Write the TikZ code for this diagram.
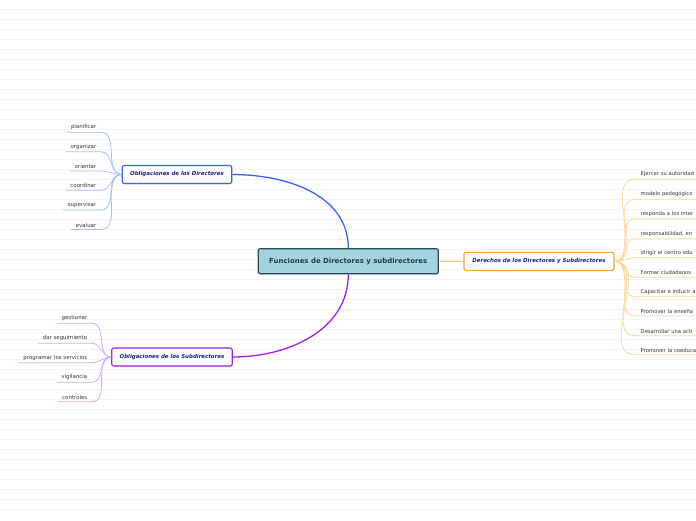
\documentclass[tikz,border=0pt]{standalone}
\usepackage{fontspec}
\setmainfont{DejaVu Sans}
\usetikzlibrary{shadows}
\definecolor{bgline}{HTML}{F4F4F4}
\definecolor{cenfill}{HTML}{A0D4E1}
\definecolor{cendraw}{HTML}{2E4656}
\definecolor{centext}{HTML}{2E3A44}
\definecolor{titletext}{HTML}{1C1C8C}
\definecolor{leaftext}{HTML}{333333}
\definecolor{bluemain}{HTML}{3366FF}
\definecolor{bluelight}{HTML}{A3BDFF}
\definecolor{purplemain}{HTML}{A51CF0}
\definecolor{purplelight}{HTML}{DCA6F7}
\definecolor{orangemain}{HTML}{F5A623}
\definecolor{orangeline}{HTML}{FFC88C}
\definecolor{orangelight}{HTML}{FFD699}
\begin{document}
\begin{tikzpicture}[x=1pt,y=1pt,
  central/.style={draw=cendraw, fill=cenfill, line width=1.2pt, rounded corners=2pt,
    minimum width=180pt, minimum height=25pt, inner sep=0pt,
    font=\fontsize{6.95}{8}\selectfont\bfseries, text=centext,
    drop shadow={shadow xshift=0.6pt, shadow yshift=-0.8pt, opacity=0.25}},
  title/.style={fill=white, line width=1.1pt, rounded corners=2pt,
    minimum height=18pt, inner sep=0pt,
    font=\fontsize{5.45}{6.5}\selectfont\bfseries\itshape, text=titletext,
    drop shadow={shadow xshift=0.6pt, shadow yshift=-0.8pt, opacity=0.25}},
  leaf/.style={font=\fontsize{5.45}{6.5}\selectfont, text=leaftext, inner xsep=4.5pt, inner ysep=2.2pt},
  leafR/.style={leaf, font=\fontsize{5.25}{6.5}\selectfont, anchor=south west, text width=80pt, align=left, inner xsep=5.5pt},
  leafL/.style={leaf, anchor=south east},
  mainline/.style={line width=1.3pt},
  twig/.style={line width=0.8pt},
]
\useasboundingbox (0,0) rectangle (696,-520);
\clip (0,0) rectangle (696,-520);
\foreach \k in {1,...,51} \draw[bgline, line width=0.7pt] (0,-10*\k+0.5) -- (696,-10*\k+0.5);

% main nodes
\node[central] (cen) at (348.3,-261.2) {Funciones de Directores y subdirectores};
\node[title, draw=bluemain, minimum width=109.5pt] (dir) at (177,-174.5) {Obligaciones de los Directores};
\node[title, draw=purplemain, minimum width=120.5pt] (sub) at (172,-357) {Obligaciones de los Subdirectores};
\node[title, draw=orangemain, minimum width=150pt] (der) at (539,-261.3) {Derechos de los Directores y Subdirectores};

% main connectors
\draw[mainline, bluemain] (cen.north) to[out=90, in=0] (dir.east);
\draw[mainline, purplemain] (cen.south) to[out=-90, in=0] (sub.east);
\draw[mainline, orangeline] (cen.east) -- (der.west);

% Directores leaves
\foreach \n/\y/\t in {d1/132.3/planificar, d2/151.7/organizar, d3/171/orientar,
                       d4/190.3/coordinar, d5/210/supervisar, d6/229.5/evaluar}{
  \node[leafL] (\n) at (101,-\y) {\t};
  \draw[twig, bluelight] (\n.south west) -- (\n.south east) to[out=0, in=180] (dir.west);
}

% Subdirectores leaves
\foreach \n/\y/\t in {s1/323.3/gestionar, s2/343.3/dar seguimiento, s3/362.7/programar los servicios,
                       s4/382.3/vigilancia, s5/401.7/controles}{
  \node[leafL] (\n) at (92,-\y) {\t};
  \draw[twig, purplelight] (\n.south west) -- (\n.south east) to[out=0, in=180] (sub.west);
}

% Derechos leaves
\foreach \n/\y/\t in {r1/179.3/Ejercer su autoridad, r2/199.3/modelo pedagógico, r3/218.7/responda a los inter,
                       r4/238.7/{responsabilidad, en}, r5/257.7/dirigir el centro edu, r6/277.3/Formar ciudadanos,
                       r7/296.7/Capacitar e inducir a, r8/316/Promover la enseña, r9/335.7/Desarrollar una acti,
                       r10/354.7/Promover la coeduca}{
  \node[leafR] (\n) at (635,-\y) {\t};
  \draw[twig, orangelight] (\n.south east) -- (\n.south west) to[out=180, in=0] (der.east);
}
\end{tikzpicture}
\end{document}
